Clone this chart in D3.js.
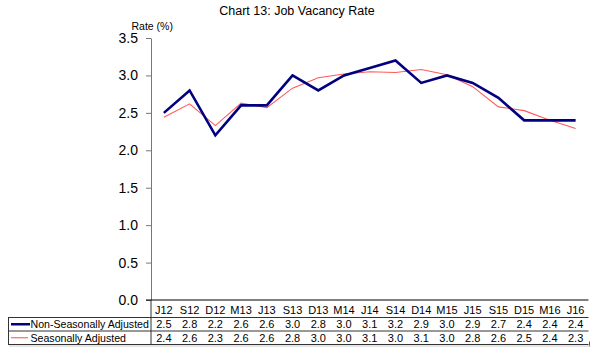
<!DOCTYPE html>
<html><head><meta charset="utf-8">
<script src="https://cdn.jsdelivr.net/npm/d3@7"></script>
<style>body{margin:0;background:#fff}svg{display:block;font-family:"Liberation Sans",Arial,sans-serif}</style>
</head><body><svg id="c" width="600" height="360"></svg>
<script>
const categories=["J12","S12","D12","M13","J13","S13","D13","M14","J14","S14","D14","M15","J15","S15","D15","M16","J16"];
const nsaValues=[2.5,2.8,2.2,2.6,2.6,3.0,2.8,3.0,3.1,3.2,2.9,3.0,2.9,2.7,2.4,2.4,2.4];
const saValues=[2.44,2.62,2.33,2.63,2.57,2.83,2.97,3.02,3.05,3.04,3.08,3.01,2.85,2.58,2.53,2.40,2.29];
const nsaLabels=["2.5","2.8","2.2","2.6","2.6","3.0","2.8","3.0","3.1","3.2","2.9","3.0","2.9","2.7","2.4","2.4","2.4"];
const saLabels=["2.4","2.6","2.3","2.6","2.6","2.8","3.0","3.0","3.1","3.0","3.1","3.0","2.8","2.6","2.5","2.4","2.3"];
const yTicks=[0,0.5,1,1.5,2,2.5,3,3.5];
const seriesNames=["Non-Seasonally Adjusted","Seasonally Adjusted"];

const svg=d3.select("#c");
const L=151,R=588.5,T=38,B=300;
const x=d3.scaleBand().domain(categories).range([L,R]);
const y=d3.scaleLinear().domain([0,3.5]).range([B,T]);
const cx=d=>x(d)+x.bandwidth()/2;

svg.append("text").attr("x",297).attr("y",15).attr("text-anchor","middle").attr("font-size",12.5).attr("fill","#000").text("Chart 13: Job Vacancy Rate");
svg.append("text").attr("x",131.5).attr("y",30).attr("font-size",10.5).attr("fill","#000").text("Rate (%)");

const ya=svg.append("g").attr("transform",`translate(${L},0)`).call(d3.axisLeft(y).tickValues(yTicks).tickFormat(d3.format(".1f")).tickSize(5).tickSizeOuter(0));
ya.select(".domain").attr("stroke","#777");
ya.selectAll(".tick line").attr("stroke","#777");
ya.selectAll(".tick text").attr("font-size",14).attr("fill","#000").attr("font-family","Liberation Sans, Arial, sans-serif").attr("x",-13);

svg.append("line").attr("x1",L-5).attr("x2",R).attr("y1",B).attr("y2",B).attr("stroke","#000").attr("stroke-width",1);

const line=d3.line().x((d,i)=>cx(categories[i])).y(d=>y(d));
svg.append("path").datum(saValues).attr("d",line).attr("fill","none").attr("stroke","#ff5a5a").attr("stroke-width",1.1);
svg.append("path").datum(nsaValues).attr("d",line).attr("fill","none").attr("stroke","#000080").attr("stroke-width",2.6);

const rowY=[317.5,331,344.5];
const tbl=svg.append("g");
tbl.selectAll("text.cat").data(categories).join("text").attr("class","cat").attr("x",d=>cx(d)).attr("y",314).attr("text-anchor","middle").attr("font-size",11).attr("fill","#000").text(d=>d);
rowY.forEach(yy=>tbl.append("line").attr("x1",8).attr("x2",R).attr("y1",yy).attr("y2",yy).attr("stroke","#333").attr("stroke-width",1));
tbl.append("line").attr("x1",8.5).attr("x2",8.5).attr("y1",rowY[0]).attr("y2",rowY[2]).attr("stroke","#333");
tbl.append("line").attr("x1",L).attr("x2",L).attr("y1",B).attr("y2",rowY[2]).attr("stroke","#333");
tbl.append("line").attr("x1",R+1).attr("x2",R+1).attr("y1",rowY[2]-3).attr("y2",rowY[2]+2).attr("stroke","#555");
tbl.append("line").attr("x1",9).attr("x2",R+2).attr("y1",rowY[2]+1.5).attr("y2",rowY[2]+1.5).attr("stroke","#ccc");

const rows=[{name:seriesNames[0],labels:nsaLabels,color:"#000080",w:2.5,sw:30},{name:seriesNames[1],labels:saLabels,color:"#ff5a5a",w:1.1,sw:28}];
rows.forEach((r,ri)=>{
  const yc=(rowY[ri]+rowY[ri+1])/2;
  tbl.append("line").attr("x1",11).attr("x2",r.sw).attr("y1",yc).attr("y2",yc).attr("stroke",r.color).attr("stroke-width",r.w);
  tbl.append("text").attr("x",30.5).attr("y",yc+4).attr("font-size",10.6).attr("fill","#000").text(r.name);
  tbl.selectAll(null).data(r.labels).join("text").attr("x",(d,i)=>cx(categories[i])).attr("y",yc+4).attr("text-anchor","middle").attr("font-size",11).attr("fill","#000").text(d=>d);
});
</script></body></html>
